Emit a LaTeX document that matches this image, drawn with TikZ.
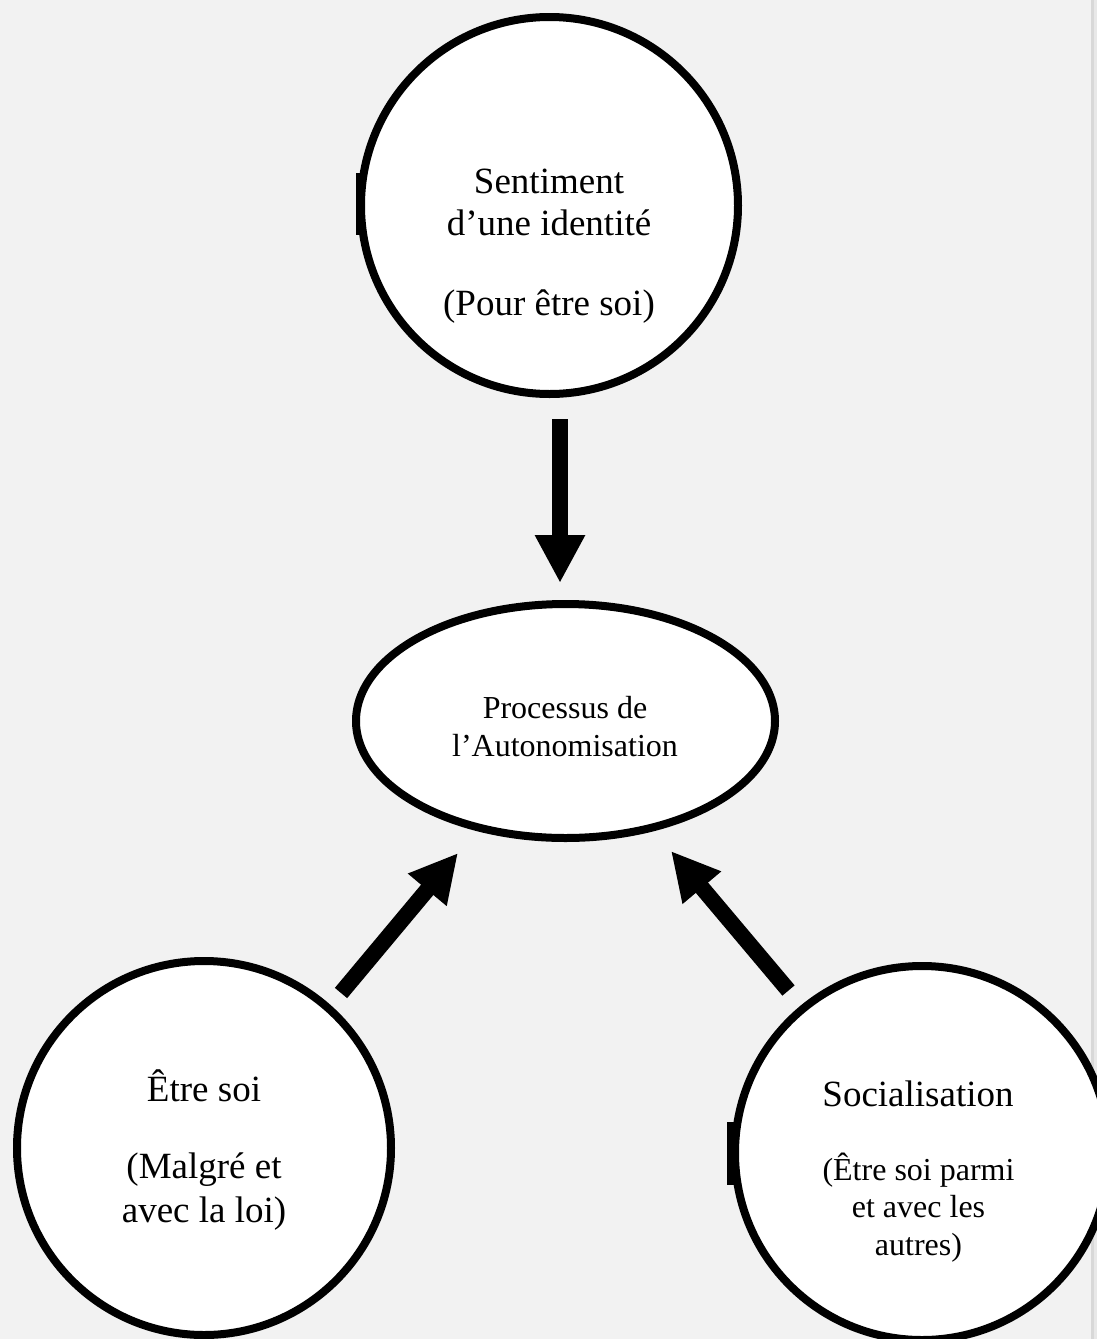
\documentclass[tikz,border=0pt]{standalone}
\usepackage{fontspec}
\setmainfont{Liberation Serif}
\usetikzlibrary{arrows.meta,shapes.geometric}
\definecolor{pagebg}{HTML}{F2F2F2}
\definecolor{edgedark}{HTML}{D8D8D8}
\definecolor{edgelight}{HTML}{E8E8E8}
\begin{document}
\begin{tikzpicture}[x=1pt,y=-1pt,
  bubble/.style={circle,draw=black,fill=white,line width=8pt,inner sep=0pt,outer sep=0pt,minimum size=#1},
  oval/.style={ellipse,draw=black,fill=white,line width=8pt,inner sep=0pt,outer sep=0pt},
  bigarrow/.style={line width=16pt,-{Triangle[width=47pt,length=48pt]}},
  bigtxt/.style={font=\fontsize{37}{44}\selectfont,anchor=base,inner sep=0pt},
  smalltxt/.style={font=\fontsize{32}{38}\selectfont,anchor=base,inner sep=0pt}]
  % page and right margin strip
  \fill[pagebg] (0,0) rectangle (1097,1339);
  \fill[edgedark] (1091,0) rectangle (1093.5,1339);
  \fill[edgelight] (1093.5,0) rectangle (1097,1339);
  \useasboundingbox (0,0) rectangle (1097,1339);

  % circles and the central ellipse
  \node[bubble=377pt] (ident) at (549.5,205.5) {};
  \node[bubble=374pt] (soi) at (204,1148) {};
  \node[bubble=374pt] (social) at (922,1153) {};
  \node[oval,minimum width=419pt,minimum height=234pt] (proc) at (565.5,721) {};

  % flattened edge pieces on two circles
  \fill[black] (355.5,173) rectangle (362,235);
  \fill[black] (727.3,1122) rectangle (736,1185);

  % arrow end points
  \coordinate (a1s) at (560,419);
  \coordinate (a1e) at (560,583);
  \coordinate (a2s) at (341,993);
  \coordinate (a2e) at (458,853);
  \coordinate (a3s) at (788.5,990.5);
  \coordinate (a3e) at (671,851);
  \draw[bigarrow] (a1s) -- (a1e);
  \draw[bigarrow] (a2s) -- (a2e);
  \draw[bigarrow] (a3s) -- (a3e);

  % texts
  \node[bigtxt] (t1) at (549,193) {Sentiment};
  \node[bigtxt] (t2) at (549,235) {d’une identité};
  \node[bigtxt] (t3) at (549,315) {(Pour être soi)};

  \node[smalltxt] (p1) at (565,718) {Processus de};
  \node[smalltxt] (p2) at (565,756) {l’Autonomisation};

  \node[bigtxt] (s1) at (204,1101) {Être soi};
  \node[bigtxt] (s2) at (204,1178) {(Malgré et};
  \node[bigtxt] (s3) at (204,1222) {avec la loi)};

  \node[bigtxt] (c1) at (918,1106) {Socialisation};
  \node[smalltxt] (c2) at (918.5,1180) {(Être soi parmi};
  \node[smalltxt] (c3) at (918.5,1217) {et avec les};
  \node[smalltxt] (c4) at (918.5,1255) {autres)};
\end{tikzpicture}
\end{document}
